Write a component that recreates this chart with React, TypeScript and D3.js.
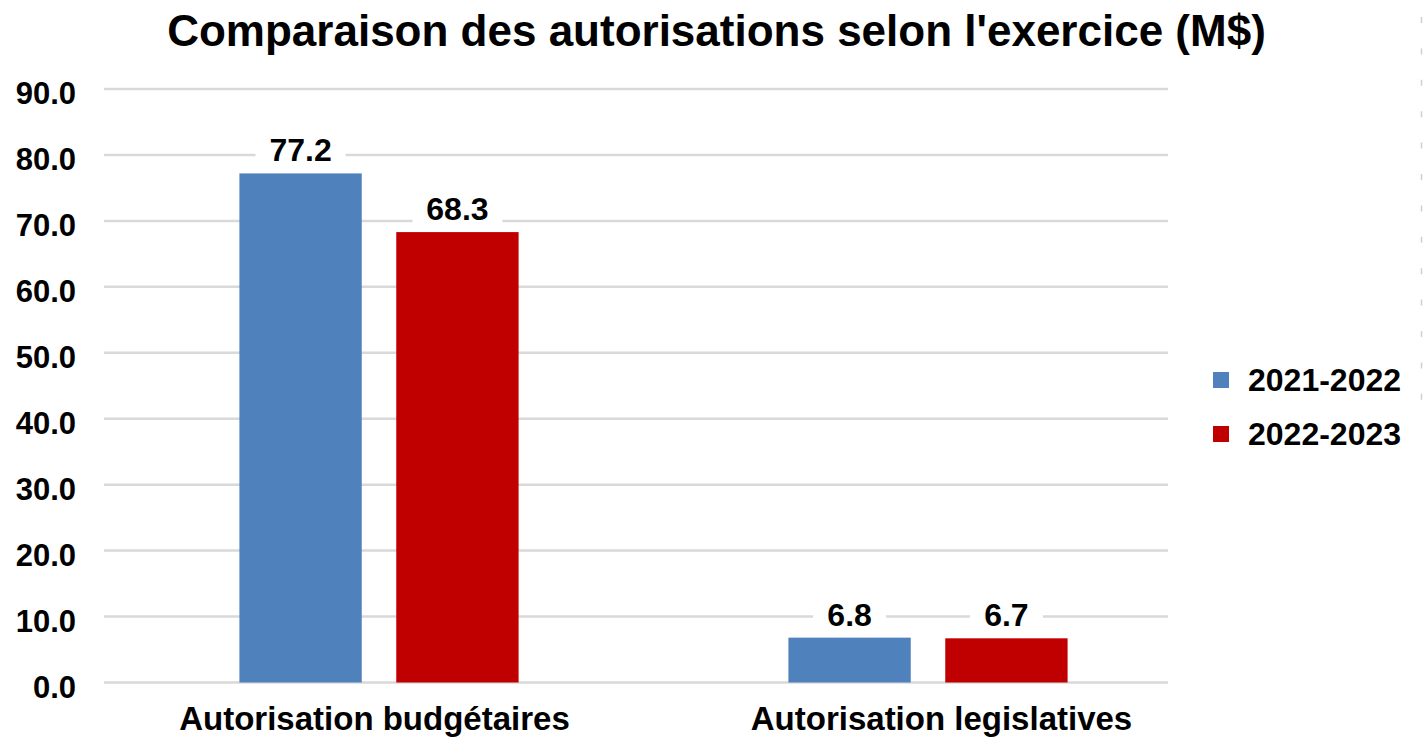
import React from "react";
import * as d3 from "d3";

const categories = ["Autorisation budgétaires", "Autorisation legislatives"];
const seriesNames = ["2021-2022", "2022-2023"];
const values2021 = [77.2, 6.8];
const values2022 = [68.3, 6.7];
const yTicks = [0, 10, 20, 30, 40, 50, 60, 70, 80, 90];
const seriesColors = ["#4f81bd", "#c00000"];
const title = "Comparaison des autorisations selon l'exercice (M$)";

const W = 1423;
const H = 738;
const FONT = "'Liberation Sans', Arial, sans-serif";

export default function App() {
  const series = [values2021, values2022];
  const x0 = d3.scaleBand<string>().domain(categories).range([104.5, 1202.5]);
  const xLabel = d3.scaleBand<string>().domain(categories).range([91, 1225]);
  const x1 = d3
    .scaleBand<string>()
    .domain(seriesNames)
    .range([0, x0.bandwidth()])
    .paddingInner(0.22)
    .paddingOuter(0.86);
  const y = d3.scaleLinear().domain([0, 90]).range([682.5, 89]);
  const gridX0 = 104;
  const gridX1 = 1168;

  return (
    <svg
      width={W}
      height={H}
      style={{ position: "absolute", left: 0, top: 0, background: "#fff", display: "block" }}
      fontFamily={FONT}
    >
      <rect x={0} y={0} width={W} height={H} fill="#fff" />
      <line x1={1421.5} x2={1421.5} y1={17} y2={400} stroke="#d0d0d0" strokeWidth={1.5} strokeDasharray="6 25.4" />
      <text x={716.5} y={46} textAnchor="middle" fontSize={44} fontWeight="bold" fill="#000">
        {title}
      </text>
      {yTicks.map((t) => (
        <g key={t}>
          <line x1={gridX0} x2={gridX1} y1={y(t)} y2={y(t)} stroke="#d9d9d9" strokeWidth={2.5} />
          <text x={76} y={y(t) + 15} textAnchor="end" fontSize={31} fontWeight="bold" fill="#000">
            {t.toFixed(1)}
          </text>
        </g>
      ))}
      {categories.map((c, ci) => (
        <g key={c} transform={`translate(${x0(c)},0)`}>
          {seriesNames.map((s, si) => {
            const v = series[si][ci];
            const bx = x1(s)!;
            const bw = x1.bandwidth();
            const label = v.toFixed(1);
            const lw = label.length * 17 + 22;
            const by = y(v);
            const base = by - 12;
            return (
              <g key={s}>
                <rect x={bx} y={by} width={bw} height={y(0) - by} fill={seriesColors[si]} />
                <rect x={bx + bw / 2 - lw / 2} y={base - 27} width={lw} height={33} fill="#fff" />
                <text x={bx + bw / 2} y={base} textAnchor="middle" fontSize={32} fontWeight="bold" fill="#000">
                  {label}
                </text>
              </g>
            );
          })}
        </g>
      ))}
      {categories.map((c) => (
        <text
          key={c}
          x={xLabel(c)! + xLabel.bandwidth() / 2}
          y={730}
          textAnchor="middle"
          fontSize={33}
          fontWeight="bold"
          fill="#000"
        >
          {c}
        </text>
      ))}
      {seriesNames.map((s, i) => (
        <g key={s} transform={`translate(1213,${372 + i * 54})`}>
          <rect x={0} y={0} width={16} height={16} fill={seriesColors[i]} />
          <text x={35} y={19} fontSize={32} fontWeight="bold" fill="#000">
            {s}
          </text>
        </g>
      ))}
    </svg>
  );
}
